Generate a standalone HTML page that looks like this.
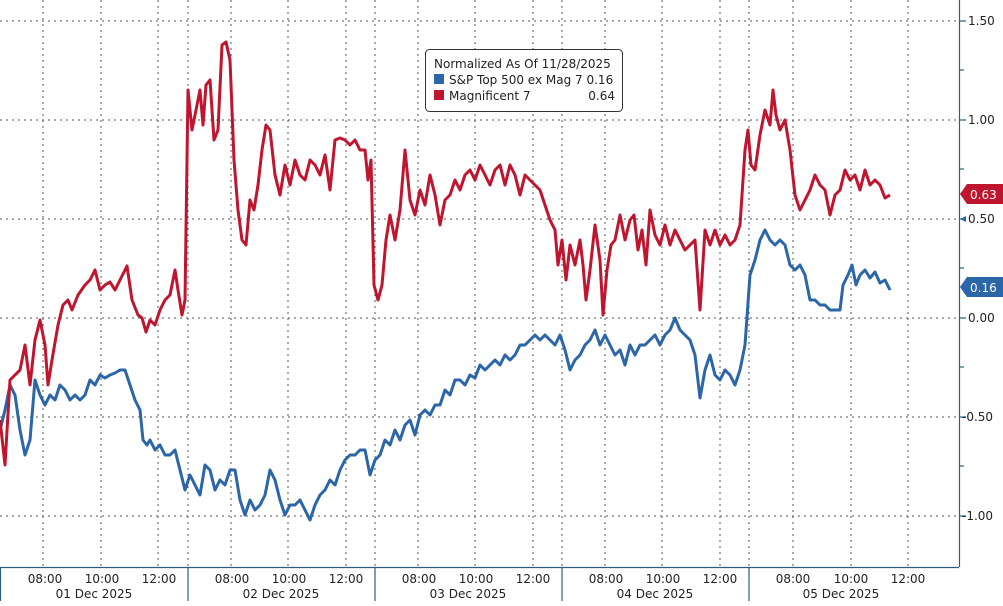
<!DOCTYPE html>
<html><head><meta charset="utf-8"><style>
body{margin:0;background:#fff;}
svg text{font-family:"DejaVu Sans","Liberation Sans",sans-serif;}
</style></head><body>
<svg width="1003" height="601" viewBox="0 0 1003 601" xmlns="http://www.w3.org/2000/svg">
<rect width="1003" height="601" fill="#fff"/>
<g stroke="#555" stroke-width="1" stroke-dasharray="2,4">
<line x1="0" y1="21" x2="958" y2="21"/>
<line x1="0" y1="120" x2="958" y2="120"/>
<line x1="0" y1="219" x2="958" y2="219"/>
<line x1="0" y1="318" x2="958" y2="318"/>
<line x1="0" y1="417" x2="958" y2="417"/>
<line x1="0" y1="516" x2="958" y2="516"/>
<line x1="43" y1="0" x2="43" y2="567"/><line x1="101" y1="0" x2="101" y2="567"/><line x1="158" y1="0" x2="158" y2="567"/><line x1="188" y1="0" x2="188" y2="567"/>
<line x1="231" y1="0" x2="231" y2="567"/><line x1="288" y1="0" x2="288" y2="567"/><line x1="346" y1="0" x2="346" y2="567"/><line x1="375" y1="0" x2="375" y2="567"/>
<line x1="418" y1="0" x2="418" y2="567"/><line x1="475" y1="0" x2="475" y2="567"/><line x1="533" y1="0" x2="533" y2="567"/><line x1="562" y1="0" x2="562" y2="567"/>
<line x1="605" y1="0" x2="605" y2="567"/><line x1="662" y1="0" x2="662" y2="567"/><line x1="720" y1="0" x2="720" y2="567"/><line x1="749" y1="0" x2="749" y2="567"/>
<line x1="793" y1="0" x2="793" y2="567"/><line x1="851" y1="0" x2="851" y2="567"/><line x1="908" y1="0" x2="908" y2="567"/>
</g>
<g stroke="#2c5f7c" stroke-width="1.2" fill="none">
<line x1="0" y1="567.5" x2="959" y2="567.5"/>
<line x1="959.5" y1="0" x2="959.5" y2="567"/>
<line x1="0.5" y1="567" x2="0.5" y2="601"/>
<line x1="188" y1="567" x2="188" y2="601"/><line x1="375" y1="567" x2="375" y2="601"/><line x1="562" y1="567" x2="562" y2="601"/><line x1="749" y1="567" x2="749" y2="601"/>
<line x1="960" y1="21" x2="966" y2="21"/><line x1="960" y1="70" x2="964" y2="70"/><line x1="960" y1="120" x2="966" y2="120"/><line x1="960" y1="169" x2="964" y2="169"/><line x1="960" y1="219" x2="966" y2="219"/><line x1="960" y1="268" x2="964" y2="268"/><line x1="960" y1="318" x2="966" y2="318"/><line x1="960" y1="367" x2="964" y2="367"/><line x1="960" y1="417" x2="966" y2="417"/><line x1="960" y1="466" x2="964" y2="466"/><line x1="960" y1="516" x2="966" y2="516"/>
</g>
<g font-size="12" fill="#222">
<text x="968" y="25">1.50</text><text x="968" y="124">1.00</text><text x="968" y="223">0.50</text><text x="968" y="322">0.00</text><text x="962" y="421">-0.50</text><text x="962" y="520">-1.00</text>
</g>
<g font-size="12" fill="#222" text-anchor="middle">
<text x="45" y="583">08:00</text><text x="102" y="583">10:00</text><text x="159" y="583">12:00</text>
<text x="232" y="583">08:00</text><text x="289" y="583">10:00</text><text x="346" y="583">12:00</text>
<text x="419" y="583">08:00</text><text x="476" y="583">10:00</text><text x="533" y="583">12:00</text>
<text x="606" y="583">08:00</text><text x="663" y="583">10:00</text><text x="720" y="583">12:00</text>
<text x="793" y="583">08:00</text><text x="851" y="583">10:00</text><text x="908" y="583">12:00</text>
<text x="94" y="598">01 Dec 2025</text><text x="281" y="598">02 Dec 2025</text><text x="468" y="598">03 Dec 2025</text><text x="655" y="598">04 Dec 2025</text><text x="841" y="598">05 Dec 2025</text>
</g>
<polyline fill="none" stroke="#2b66a8" stroke-width="3" stroke-linejoin="round" points="0,430 5,410 10,385 15,395 20,430 25,455 30,440 35,380 40,395 45,405 50,395 55,400 60,385 65,390 70,400 75,395 80,400 85,395 90,380 95,385 100,375 105,378 110,375 115,373 120,370 125,370 130,385 135,400 140,410 143,440 147,445 150,440 155,450 160,445 165,455 170,455 175,450 180,470 185,490 190,475 195,485 200,495 205,465 210,470 215,490 220,480 225,485 230,470 235,470 240,500 245,515 250,500 255,510 260,505 265,495 270,470 275,480 280,500 285,515 290,505 295,505 300,500 305,510 310,520 315,505 320,495 325,490 330,480 335,485 340,470 345,460 350,455 355,455 360,450 365,450 370,475 375,460 380,455 385,440 390,445 395,430 400,440 405,425 410,420 415,435 420,415 425,410 430,415 435,405 440,405 445,390 450,395 455,380 460,380 465,385 470,375 475,378 480,365 485,370 490,365 495,360 500,365 505,355 510,360 515,355 520,345 525,345 530,340 535,335 540,340 545,335 550,340 555,345 560,335 565,350 570,370 575,360 580,355 585,345 590,340 595,330 600,345 605,335 610,345 615,355 620,350 625,365 630,345 635,355 640,345 645,345 650,340 655,335 660,345 665,335 670,330 675,318 680,330 685,335 690,340 695,355 700,398 705,370 710,355 715,375 720,380 725,370 730,375 735,385 740,370 745,345 750,275 755,260 760,240 765,230 770,240 775,245 780,240 785,245 790,265 795,270 800,265 805,275 810,300 815,300 820,305 825,305 830,310 835,310 840,310 843,285 848,275 852,265 856,285 860,275 865,270 870,278 875,272 880,283 885,280 890,290"/>
<polyline fill="none" stroke="#c0152f" stroke-width="3" stroke-linejoin="round" points="0,420 5,465 10,380 15,375 20,370 25,345 30,385 35,340 40,320 45,345 48,385 52,360 58,325 63,305 68,300 72,310 78,295 85,285 90,280 95,270 100,290 105,285 110,282 115,290 120,280 127,266 132,300 138,315 142,318 146,332 150,320 155,325 160,310 165,300 170,295 175,270 178,290 182,315 185,300 188,90 192,130 196,110 200,90 203,125 206,85 210,80 214,140 218,130 222,45 226,42 230,60 234,160 238,210 242,240 246,245 250,200 254,210 258,185 262,150 266,125 270,130 275,175 280,195 285,165 290,185 295,160 300,175 305,180 310,160 315,165 320,175 325,155 330,190 335,140 340,138 345,140 350,145 355,140 360,150 365,150 368,180 371,160 374,285 378,300 382,285 386,240 390,215 395,240 400,210 405,150 410,200 415,215 420,190 425,205 430,175 435,195 440,225 445,200 450,195 455,180 460,190 465,175 470,170 475,180 480,165 485,175 490,185 495,170 500,165 505,185 510,165 515,175 520,195 525,175 530,180 535,185 540,190 545,205 550,220 555,230 558,265 562,240 566,280 570,245 575,265 580,240 583,265 586,300 590,270 595,225 600,260 603,315 607,270 611,245 615,240 620,215 625,240 630,220 634,215 638,250 642,230 646,265 650,210 655,235 660,245 665,225 670,245 675,230 680,240 685,250 690,245 695,240 700,310 705,230 710,245 715,230 720,245 725,235 730,245 735,240 740,225 745,150 748,130 751,165 755,170 760,135 765,110 770,125 773,90 776,115 780,130 785,120 790,150 795,195 800,210 805,200 810,190 815,175 820,185 825,190 830,215 835,195 840,190 845,170 850,180 855,175 860,190 865,170 870,185 875,180 880,185 885,198 890,195"/>
<path d="M960,194 L967,184 L1003,184 L1003,204 L967,204 Z" fill="#c0152f"/>
<text x="970" y="199" font-size="12" fill="#fff">0.63</text>
<path d="M960,287 L967,277 L1003,277 L1003,297 L967,297 Z" fill="#2b66a8"/>
<text x="970" y="292" font-size="12" fill="#fff">0.16</text>
<path d="M960,219 L966,216 L966,222 Z" fill="#2b66a8"/>
<rect x="425.5" y="49.5" width="197" height="62" rx="4" fill="#fff" stroke="#333" stroke-width="1"/>
<text x="434" y="68" font-size="12" fill="#222">Normalized As Of 11/28/2025</text>
<rect x="434" y="74" width="10" height="10" fill="#2b66a8"/>
<text x="449" y="84" font-size="12" fill="#222">S&amp;P Top 500 ex Mag 7 0.16</text>
<rect x="434" y="90" width="10" height="10" fill="#c0152f"/>
<text x="449" y="100" font-size="12" fill="#222">Magnificent 7</text>
<text x="615" y="100" font-size="12" fill="#222" text-anchor="end">0.64</text>
</svg>
</body></html>
